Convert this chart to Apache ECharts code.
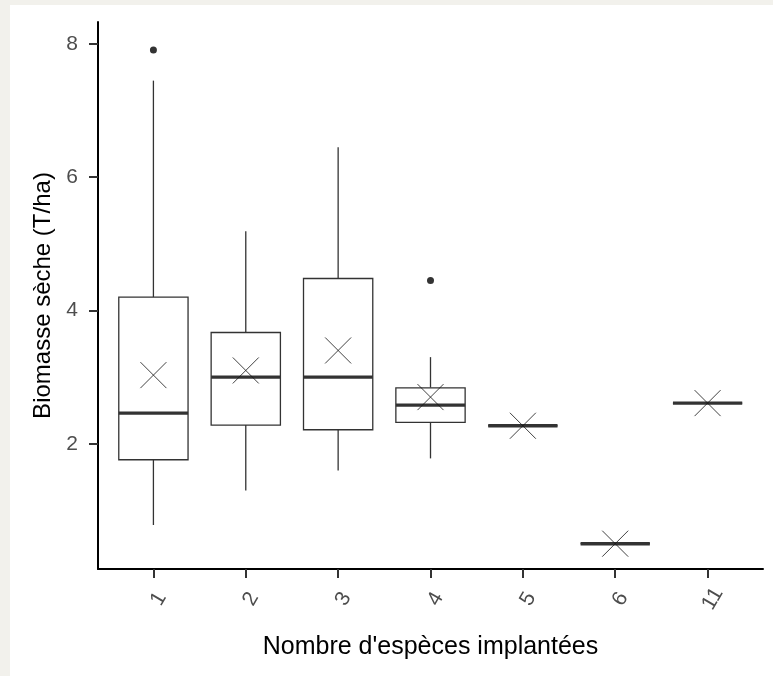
<!DOCTYPE html>
<html>
<head>
<meta charset="utf-8">
<script src="https://cdn.jsdelivr.net/npm/echarts@6/dist/echarts.min.js"></script>
<style>
  html, body { margin: 0; padding: 0; background: #f2f1ec; }
  #chart { position: absolute; left: 10px; top: 5px; width: 763px; height: 671px; background: #ffffff; }
</style>
</head>
<body>
<div id="chart"></div>
<script>
// Number of species sown (categories)
const categories = ['1', '2', '3', '4', '5', '6', '11'];
// Five-number summaries per group (T/ha)
const whiskerLow = [0.78, 1.30, 1.60, 1.78, 2.27, 0.50, 2.61];
const quartile1  = [1.76, 2.28, 2.21, 2.32, 2.27, 0.50, 2.61];
const medians    = [2.46, 3.00, 3.00, 2.58, 2.27, 0.50, 2.61];
const quartile3  = [4.20, 3.67, 4.48, 2.84, 2.27, 0.50, 2.61];
const whiskerHigh = [7.45, 5.19, 6.45, 3.30, 2.27, 0.50, 2.61];
// Group means (drawn as crosses)
const means = [3.03, 3.10, 3.40, 2.70, 2.27, 0.50, 2.61];
// Outlying observations: [category, value]
const outliers = [['1', 7.91], ['4', 4.45]];
// Y tick values
const yTicks = [2, 4, 6, 8];

// Discrete positions on a continuous axis, padded by 0.6 of a step on each side
const catPos = categories.map((c, i) => i);
const boxData = categories.map((c, i) => [i, whiskerLow[i], quartile1[i], medians[i], quartile3[i], whiskerHigh[i]]);
const meanData = categories.map((c, i) => [i, means[i]]);
const outlierData = outliers.map(o => [categories.indexOf(o[0]), o[1]]);

const INK = '#333333';
const FONT = 'Liberation Sans, Arial, sans-serif';

function renderBox(params, api) {
  const idx = api.value(0);
  const lo = api.coord([idx, api.value(1)]);
  const q1 = api.coord([idx, api.value(2)]);
  const md = api.coord([idx, api.value(3)]);
  const q3 = api.coord([idx, api.value(4)]);
  const hi = api.coord([idx, api.value(5)]);
  const half = api.size([1, 0])[0] * 0.75 / 2;
  const x = md[0];
  const thin = { stroke: INK, lineWidth: 1.3, fill: null };
  return {
    type: 'group',
    children: [
      { type: 'line', shape: { x1: x, y1: hi[1], x2: x, y2: q3[1] }, style: thin },
      { type: 'line', shape: { x1: x, y1: q1[1], x2: x, y2: lo[1] }, style: thin },
      { type: 'rect', shape: { x: x - half, y: q3[1], width: half * 2, height: q1[1] - q3[1] },
        style: { stroke: INK, lineWidth: 1.3, fill: '#ffffff' } },
      { type: 'line', shape: { x1: x - half, y1: md[1], x2: x + half, y2: md[1] },
        style: { stroke: INK, lineWidth: 3.4 } }
    ]
  };
}

function renderCross(params, api) {
  const p = api.coord([api.value(0), api.value(1)]);
  const r = 13;
  const st = { stroke: '#111111', lineWidth: 0.8 };
  return {
    type: 'group',
    children: [
      { type: 'line', shape: { x1: p[0] - r, y1: p[1] - r, x2: p[0] + r, y2: p[1] + r }, style: st },
      { type: 'line', shape: { x1: p[0] - r, y1: p[1] + r, x2: p[0] + r, y2: p[1] - r }, style: st }
    ]
  };
}

const chart = echarts.init(document.getElementById('chart'), null, { renderer: 'canvas' });
chart.setOption({
  animation: false,
  backgroundColor: '#ffffff',
  textStyle: { fontFamily: FONT },
  grid: { left: 88, top: 17, right: 10, bottom: 107, containLabel: false },
  xAxis: {
    type: 'value',
    min: -0.6,
    max: categories.length - 0.4,
    name: "Nombre d'espèces implantées",
    nameLocation: 'middle',
    nameGap: 66,
    nameTextStyle: { color: '#000000', fontSize: 25, fontFamily: FONT },
    axisLine: { show: true, onZero: false, lineStyle: { color: '#000000', width: 2 } },
    axisTick: { show: true, length: 9, customValues: catPos, lineStyle: { color: INK, width: 2 } },
    axisLabel: {
      customValues: catPos,
      formatter: v => categories[Math.round(v)],
      rotate: 60, align: 'center', verticalAlign: 'top', margin: 27,
      lineHeight: 12,
      color: '#4d4d4d', fontSize: 21, fontFamily: FONT
    },
    splitLine: { show: false }
  },
  yAxis: {
    type: 'value',
    min: 0.12,
    max: 8.33,
    name: 'Biomasse sèche (T/ha)',
    nameLocation: 'middle',
    nameGap: 42,
    nameRotate: 90,
    nameTextStyle: { color: '#000000', fontSize: 24, fontFamily: FONT },
    axisLine: { show: true, onZero: false, lineStyle: { color: '#000000', width: 2 } },
    axisTick: { show: true, length: 9, customValues: yTicks, lineStyle: { color: INK, width: 2 } },
    axisLabel: { customValues: yTicks, margin: 20, color: '#4d4d4d', fontSize: 21, fontFamily: FONT },
    splitLine: { show: false }
  },
  series: [
    {
      type: 'custom',
      name: 'boxes',
      renderItem: renderBox,
      encode: { x: 0, y: [1, 2, 3, 4, 5] },
      data: boxData,
      z: 2
    },
    {
      type: 'scatter',
      name: 'outliers',
      data: outlierData,
      symbol: 'circle',
      symbolSize: 7,
      itemStyle: { color: INK, opacity: 1 },
      z: 3
    },
    {
      type: 'custom',
      name: 'means',
      renderItem: renderCross,
      encode: { x: 0, y: 1 },
      data: meanData,
      z: 4
    }
  ]
});
</script>
</body>
</html>
